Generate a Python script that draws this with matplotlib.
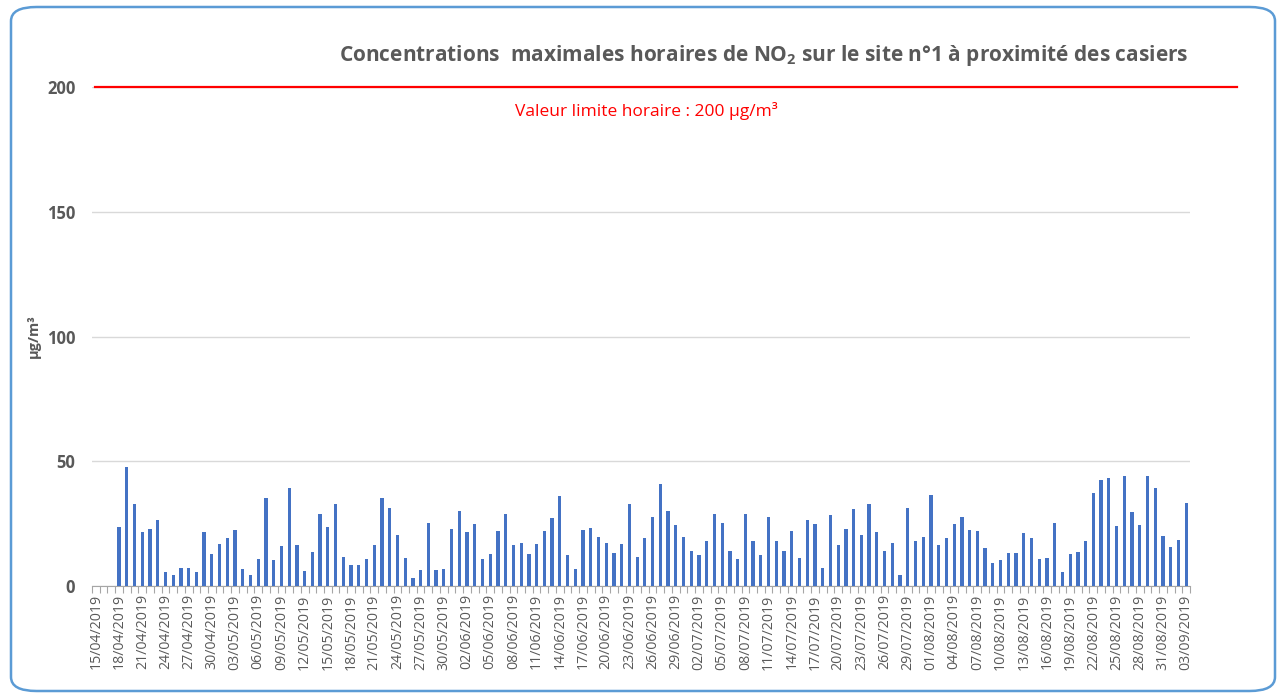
import datetime as dt
import numpy as np
import matplotlib.pyplot as plt
from matplotlib.patches import FancyBboxPatch

# Daily maximum hourly NO2 concentrations (µg/m³), 15/04/2019 -> 03/09/2019
start = dt.date(2019, 4, 15)
values = [np.nan, np.nan, np.nan,
          23.5, 47.7, 32.7, 21.5, 23.0, 26.3, 5.5, 4.4, 7.4, 7.4, 5.5, 21.5, 12.9,
          16.7, 19.1, 22.4, 6.9, 4.4, 10.8, 35.1, 10.3, 16.1, 39.1, 16.3, 6.0, 13.7,
          28.9, 23.5, 32.7, 11.8, 8.5, 8.5, 10.9, 16.3, 35.2, 31.3, 20.6, 11.3, 3.1,
          6.5, 25.4, 6.5, 6.9, 23.0, 30.2, 21.5, 25.0, 10.9, 12.9, 22.0, 28.9, 16.3,
          17.2, 12.9, 16.7, 22.0, 27.4, 36.2, 12.4, 7.0, 22.4, 23.4, 19.6, 17.2, 13.3,
          16.7, 32.7, 11.8, 19.1, 27.8, 41.0, 30.2, 24.5, 19.6, 14.2, 12.4, 18.1, 28.9,
          25.4, 14.2, 10.9, 28.9, 18.1, 12.4, 27.8, 18.1, 14.2, 22.0, 11.3, 26.3, 24.9,
          7.4, 28.4, 16.3, 23.0, 30.8, 20.6, 32.7, 21.5, 14.2, 17.2, 4.6, 31.3, 18.1,
          19.6, 36.6, 16.3, 19.1, 25.0, 27.8, 22.4, 22.0, 15.2, 9.4, 10.3, 13.3, 13.3,
          21.1, 19.1, 10.9, 11.3, 25.4, 5.5, 12.9, 13.7, 18.1, 37.1, 42.5, 43.4, 24.1,
          44.0, 29.7, 24.5, 44.0, 39.1, 20.2, 15.7, 18.5, 33.2]
dates = [start + dt.timedelta(days=i) for i in range(len(values))]
labels = [d.strftime('%d/%m/%Y') for d in dates]
limit = 200

gray = '#595959'
plt.rcParams['font.family'] = ['Open Sans', 'DejaVu Sans']
plt.rcParams['mathtext.fontset'] = 'custom'
plt.rcParams['mathtext.rm'] = 'Open Sans'
plt.rcParams['mathtext.bf'] = 'Open Sans:bold'

fig = plt.figure(figsize=(12.81, 6.99), dpi=100)
ax = fig.add_axes([92 / 1281, 1 - 586 / 699, (1190 - 92) / 1281, (586 - 87) / 699])

# rounded chart border
fig.patches.append(FancyBboxPatch((11 / 1281, 8 / 699), 1264 / 1281, 684 / 699,
                                  boxstyle='round,pad=0,rounding_size=0.02',
                                  transform=fig.transFigure, fill=False,
                                  edgecolor='#5B9BD5', linewidth=1.8))

x = np.arange(len(values))
ax.bar(x, values, width=0.42, color='#4472C4', zorder=3)

ax.set_xlim(-0.5, len(values) - 0.5)
ax.set_ylim(0, 200)
ax.set_yticks([0, 50, 100, 150, 200])
ax.grid(axis='y', color='#D9D9D9', linewidth=1, zorder=0)

# limit value line, reaching past the plot area
ax.plot([-0.1, len(values) + 5.6], [limit, limit], color='#FF0000', linewidth=1.6,
        clip_on=False, zorder=4)
ax.text(71.2, 190.5, 'Valeur limite horaire : 200 µg/m³', color='#FF0000',
        fontsize=12.5, ha='center', va='center')

ax.set_xticks(x[::3])
ax.set_xticklabels(labels[::3], rotation=90, fontsize=10.2, color=gray)
ax.set_xticks(np.arange(-0.5, len(values), 1), minor=True)
ax.tick_params(axis='x', which='major', length=0, pad=6)
ax.tick_params(axis='x', which='minor', length=5, color='#A6A6A6', width=0.8)
ax.tick_params(axis='y', length=0, pad=12, labelsize=12, labelcolor=gray)
for t in ax.get_yticklabels():
    t.set_fontweight('bold')

for s in ['top', 'right', 'left']:
    ax.spines[s].set_visible(False)
ax.spines['bottom'].set_color('#A6A6A6')

ax.set_ylabel('µg/m³', fontsize=10.5, fontweight='bold', color=gray)
ax.yaxis.set_label_coords(-0.047, 0.5)

fig.text(1188 / 1281, 1 - 55 / 699,
         r'Concentrations  maximales horaires de NO$\mathbf{_2}$ sur le site n°1 à proximité des casiers',
         ha='right', va='center', fontsize=15, fontweight='bold', color=gray)

fig.savefig('out.png', dpi=100)
